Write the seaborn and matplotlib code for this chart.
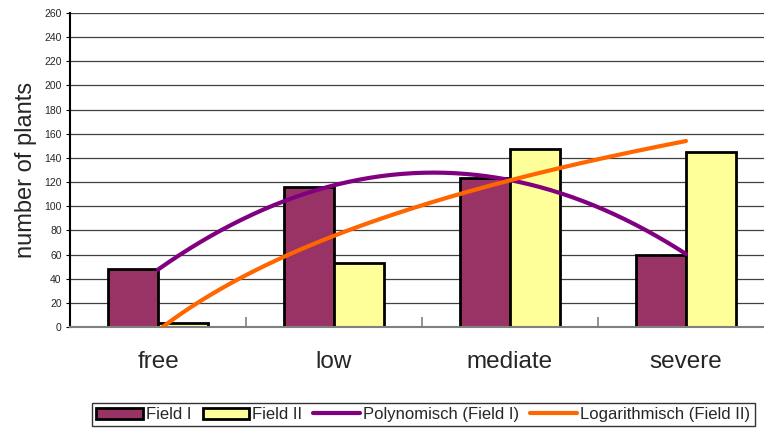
import numpy as np
import pandas as pd
import matplotlib
matplotlib.use("Agg")
import matplotlib.pyplot as plt
import seaborn as sns

# Infestation classes and plant counts per field
categories = ["free", "low", "mediate", "severe"]
field_1 = [48, 116, 123, 60]
field_2 = [3, 53, 147, 145]
series_names = ["Field I", "Field II"]
y_ticks = list(range(0, 261, 20))

bar_colors = ["#993366", "#FFFF99"]
poly_color = "#800080"
log_color = "#FF6600"

sns.set_theme(style="white")
plt.rcParams["font.family"] = ["Liberation Sans", "DejaVu Sans"]

df = pd.DataFrame({
    "category": categories * 2,
    "field": [series_names[0]] * 4 + [series_names[1]] * 4,
    "plants": field_1 + field_2,
})

fig = plt.figure(figsize=(7.64, 4.30), dpi=100)
ax = fig.add_axes([70 / 764, 1 - 327 / 430, 704 / 764, 314 / 430])

# horizontal gridlines behind the bars
ax.set_axisbelow(True)
for v in y_ticks:
    ax.axhline(v, color="#404040", lw=0.9, zorder=0)

sns.barplot(data=df, x="category", y="plants", hue="field",
            palette=bar_colors, width=0.57, edgecolor="black",
            linewidth=2, saturation=1, ax=ax, zorder=2)

# Trend lines: 2nd order polynomial for Field I, logarithmic for Field II
x_idx = np.arange(1, len(categories) + 1)
xs = np.linspace(1, len(categories), 200)
poly = np.polyfit(x_idx, field_1, 2)
ax.plot(xs - 1, np.polyval(poly, xs), color=poly_color, lw=3,
        solid_capstyle="round", label="Polynomisch (Field I)", zorder=3)
b, a = np.polyfit(np.log(x_idx), field_2, 1)
ax.plot(xs - 1, a + b * np.log(xs), color=log_color, lw=3,
        solid_capstyle="round", label="Logarithmisch (Field II)", zorder=4)

ax.set_xlim(-0.5, len(categories) - 0.5)
ax.set_ylim(0, 260)
ax.set_yticks(y_ticks)
ax.tick_params(axis="y", labelsize=7.5, length=3, width=0.8, color="black",
               pad=3, left=True, direction="out")

# category labels centred, tick marks on the class boundaries
ax.set_xticks(np.arange(len(categories)))
ax.set_xticklabels(categories, fontsize=17.5)
ax.tick_params(axis="x", which="major", length=0, pad=17)
ax.set_xticks(np.arange(len(categories) + 1) - 0.5, minor=True)
ax.tick_params(axis="x", which="minor", length=7, width=1.2,
               color="#808080", direction="in", bottom=True)
ax.set_xlabel("")
ax.set_ylabel("number of plants", fontsize=17, labelpad=5)

for side in ["top", "right"]:
    ax.spines[side].set_visible(False)
ax.spines["left"].set_color("black")
ax.spines["left"].set_linewidth(1.5)
ax.spines["bottom"].set_color("#808080")
ax.spines["bottom"].set_linewidth(1.5)

handles, labels = ax.get_legend_handles_labels()
if ax.get_legend() is not None:
    ax.get_legend().remove()
leg = fig.legend(handles, labels, loc="upper left",
                 bbox_to_anchor=(92 / 764, 1 - 403 / 430), borderaxespad=0,
                 ncol=4, fontsize=12, frameon=True, fancybox=False,
                 edgecolor="black", handlelength=2.8, handletextpad=0.2,
                 columnspacing=0.65, borderpad=0.25)
leg.get_frame().set_linewidth(1.0)

fig.savefig("out.png", dpi=100)
